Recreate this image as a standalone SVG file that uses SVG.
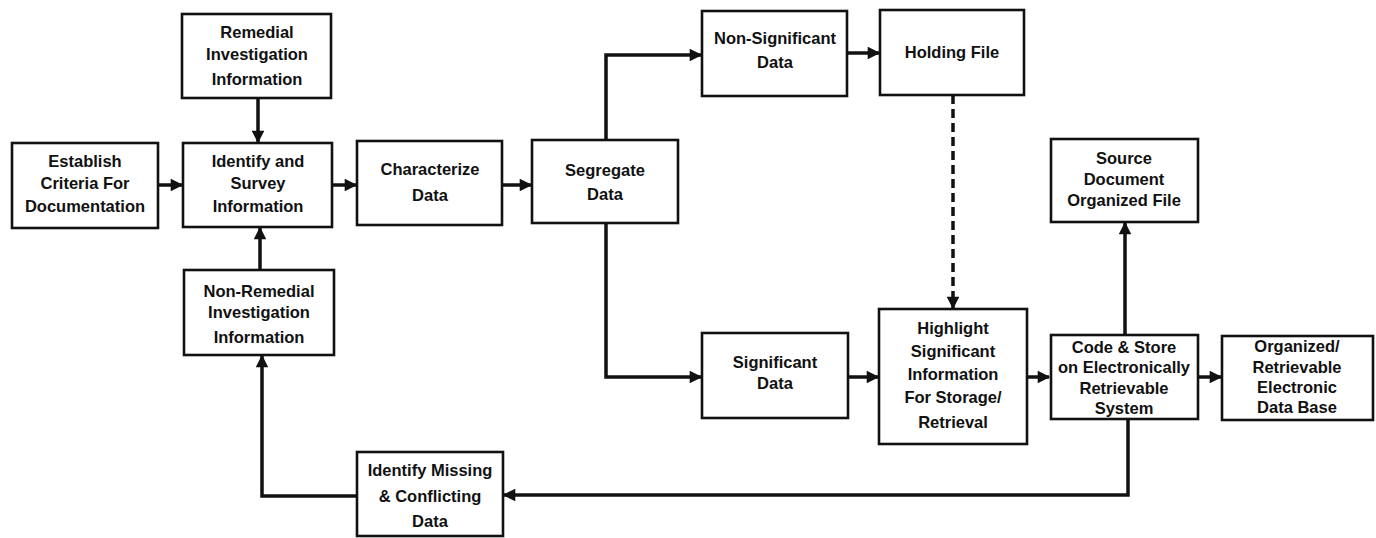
<svg xmlns="http://www.w3.org/2000/svg" width="1376" height="538" viewBox="0 0 1376 538">
<style>
.box{fill:#fff;stroke:#111;stroke-width:2.6}
.t{font-family:"Liberation Sans",Arial,sans-serif;font-weight:bold;font-size:16.5px;fill:#111;text-anchor:middle}
.c{fill:none;stroke:#111;stroke-width:3.5}
.d{stroke-dasharray:9,5}
</style>
<defs>
<marker id="a" viewBox="0 0 10 10" refX="9" refY="5" markerWidth="4" markerHeight="3.6" orient="auto" markerUnits="strokeWidth">
<path d="M0,0 L10,5 L0,10 z" fill="#111"/>
</marker>
</defs>
<rect width="1376" height="538" fill="#fff"/>
<g id="connectors">
<path class="c" d="M258,98 V142" marker-end="url(#a)"/>
<path class="c" d="M158,185 H182" marker-end="url(#a)"/>
<path class="c" d="M332,185 H356" marker-end="url(#a)"/>
<path class="c" d="M502,185 H531" marker-end="url(#a)"/>
<path class="c" d="M606,140 V55 H701" marker-end="url(#a)"/>
<path class="c" d="M606,223 V377 H701" marker-end="url(#a)"/>
<path class="c" d="M847,53 H879" marker-end="url(#a)"/>
<path class="c d" d="M953,95 V308" marker-end="url(#a)"/>
<path class="c" d="M848,377 H878" marker-end="url(#a)"/>
<path class="c" d="M1027,377 H1049" marker-end="url(#a)"/>
<path class="c" d="M1125,336 V223" marker-end="url(#a)"/>
<path class="c" d="M1198,377 H1221" marker-end="url(#a)"/>
<path class="c" d="M1128,418 V495 H504" marker-end="url(#a)"/>
<path class="c" d="M357,496 H262 V356" marker-end="url(#a)"/>
<path class="c" d="M260,270 V228" marker-end="url(#a)"/>
</g>
<g id="remedial"><rect class="box" x="182" y="14" width="149" height="84"/>
<text class="t" x="257" y="38">Remedial</text><text class="t" x="257" y="60">Investigation</text><text class="t" x="257" y="85">Information</text></g>
<g id="establish"><rect class="box" x="12" y="143" width="146" height="85"/>
<text class="t" x="85" y="167">Establish</text><text class="t" x="85" y="189">Criteria For</text><text class="t" x="85" y="212">Documentation</text></g>
<g id="identify"><rect class="box" x="183" y="143" width="149" height="84"/>
<text class="t" x="258" y="167">Identify and</text><text class="t" x="258" y="189">Survey</text><text class="t" x="258" y="212">Information</text></g>
<g id="characterize"><rect class="box" x="357" y="141" width="145" height="84"/>
<text class="t" x="430" y="175">Characterize</text><text class="t" x="430" y="201">Data</text></g>
<g id="segregate"><rect class="box" x="532" y="140" width="146" height="83"/>
<text class="t" x="605" y="176">Segregate</text><text class="t" x="605" y="200">Data</text></g>
<g id="nonsig"><rect class="box" x="702" y="11" width="145" height="85"/>
<text class="t" x="775" y="44">Non-Significant</text><text class="t" x="775" y="68">Data</text></g>
<g id="holding"><rect class="box" x="880" y="10" width="144" height="85"/>
<text class="t" x="952" y="58">Holding File</text></g>
<g id="source"><rect class="box" x="1051" y="139" width="147" height="83"/>
<text class="t" x="1124" y="164">Source</text><text class="t" x="1124" y="185">Document</text><text class="t" x="1124" y="206">Organized File</text></g>
<g id="significant"><rect class="box" x="702" y="333" width="146" height="85"/>
<text class="t" x="775" y="368">Significant</text><text class="t" x="775" y="389">Data</text></g>
<g id="highlight"><rect class="box" x="879" y="309" width="148" height="135"/>
<text class="t" x="953" y="334">Highlight</text><text class="t" x="953" y="357">Significant</text><text class="t" x="953" y="380">Information</text><text class="t" x="953" y="403">For Storage/</text><text class="t" x="953" y="428">Retrieval</text></g>
<g id="code"><rect class="box" x="1051" y="335" width="147" height="84"/>
<text class="t" x="1124" y="353">Code &amp; Store</text><text class="t" x="1124" y="373">on Electronically</text><text class="t" x="1124" y="394">Retrievable</text><text class="t" x="1124" y="414">System</text></g>
<g id="organized"><rect class="box" x="1222" y="336" width="151" height="84"/>
<text class="t" x="1297" y="352">Organized/</text><text class="t" x="1297" y="373">Retrievable</text><text class="t" x="1297" y="393">Electronic</text><text class="t" x="1297" y="413">Data Base</text></g>
<g id="nonremedial"><rect class="box" x="184" y="270" width="150" height="85"/>
<text class="t" x="259" y="297">Non-Remedial</text><text class="t" x="259" y="318">Investigation</text><text class="t" x="259" y="343">Information</text></g>
<g id="missing"><rect class="box" x="357" y="452" width="146" height="84"/>
<text class="t" x="430" y="476">Identify Missing</text><text class="t" x="430" y="502">&amp; Conflicting</text><text class="t" x="430" y="527">Data</text></g>
</svg>
